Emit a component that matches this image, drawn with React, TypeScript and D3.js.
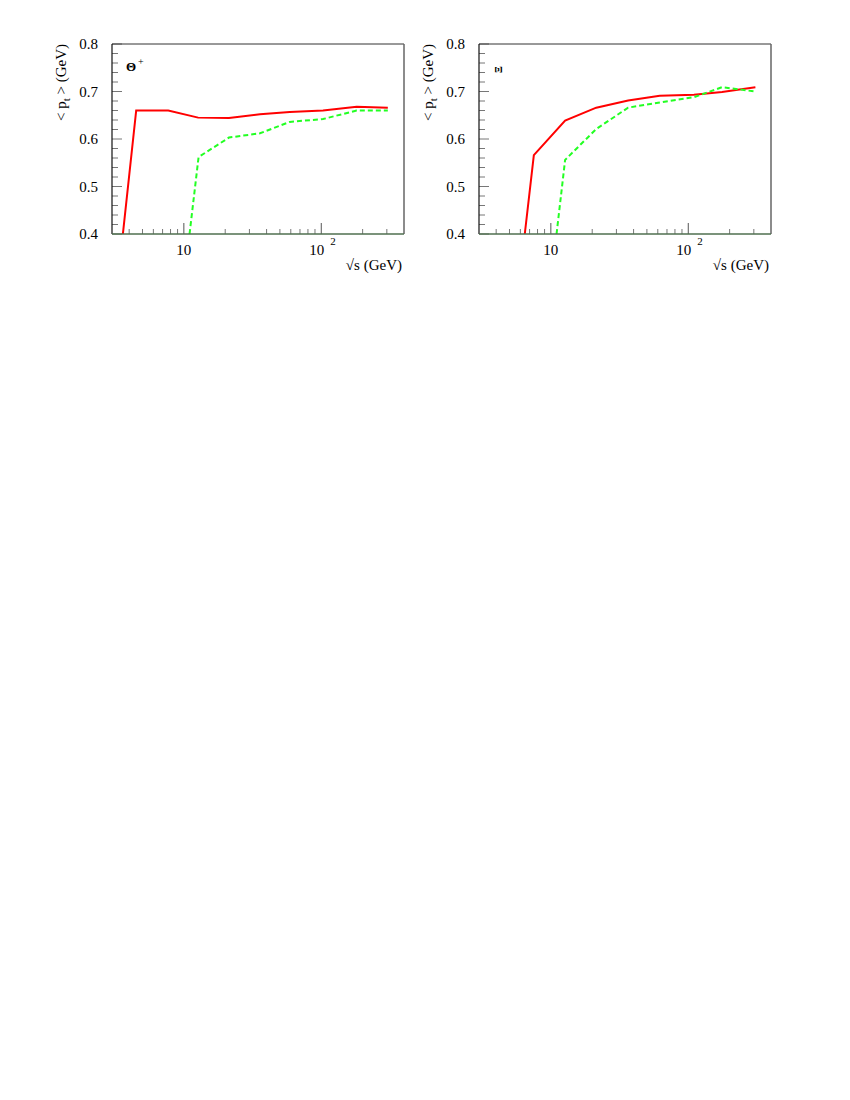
import React from 'react';
import * as d3 from 'd3';

// sqrt(s) in GeV, <pt> in GeV
const thetaRedE = [3.6, 4.5, 7.7, 12.7, 21.3, 35.8, 59, 103, 181, 305];
const thetaRedPt = [0.4, 0.66, 0.66, 0.645, 0.644, 0.652, 0.657, 0.66, 0.668, 0.666];
const thetaGreenE = [11.0, 12.8, 21.3, 35.8, 59, 103, 181, 305];
const thetaGreenPt = [0.4, 0.562, 0.603, 0.612, 0.636, 0.642, 0.66, 0.66];

const xiRedE = [6.46, 7.52, 12.7, 21.4, 36.5, 62, 110, 176, 308];
const xiRedPt = [0.4, 0.566, 0.639, 0.666, 0.681, 0.691, 0.693, 0.699, 0.709];
const xiGreenE = [11.0, 12.7, 21.4, 36.5, 62, 110, 176, 308];
const xiGreenPt = [0.4, 0.556, 0.621, 0.666, 0.677, 0.688, 0.709, 0.7];

const yTicks = [0.4, 0.5, 0.6, 0.7, 0.8];
const xDomain = [3, 400];
const yDomain = [0.4, 0.8];

const FONT = '"Liberation Serif", "DejaVu Serif", serif';

type PanelProps = {
  id: string;
  x0: number;
  x1: number;
  redE: number[];
  redPt: number[];
  greenE: number[];
  greenPt: number[];
  label: React.ReactNode;
};

const Panel = ({ id, x0, x1, redE, redPt, greenE, greenPt, label }: PanelProps) => {
  const y0 = 44;
  const y1 = 234;
  const x = d3.scaleLog().domain(xDomain).range([x0, x1]);
  const y = d3.scaleLinear().domain(yDomain).range([y1, y0]);

  const line = d3
    .line<[number, number]>()
    .x(d => x(d[0]))
    .y(d => y(d[1]));

  const red = line(redE.map((e, i) => [e, redPt[i]] as [number, number])) || '';
  const green = line(greenE.map((e, i) => [e, greenPt[i]] as [number, number])) || '';

  // minor ticks every 0.02
  const yMinor = d3.range(0.42, 0.8, 0.02).filter(v => Math.abs(v * 10 - Math.round(v * 10)) > 0.01);
  const xMinor = [4, 5, 6, 7, 8, 9, 20, 30, 40, 50, 60, 70, 80, 90, 200, 300];
  const xMajor = [10, 100];

  return (
    <g>
      <defs>
        <clipPath id={`clip-${id}`}>
          <rect x={x0} y={y0} width={x1 - x0} height={y1 - y0} />
        </clipPath>
      </defs>

      {/* y ticks */}
      {yTicks.map(t => (
        <g key={`yt${t}`}>
          <line x1={x0} x2={x0 + 10} y1={y(t)} y2={y(t)} stroke="#777" strokeWidth={1} />
          <text x={x0 - 14} y={y(t) + 5} textAnchor="end" fontSize={15} fontFamily={FONT} fill="#000">
            {t.toFixed(1)}
          </text>
        </g>
      ))}
      {yMinor.map(t => (
        <line key={`ym${t}`} x1={x0} x2={x0 + 6} y1={y(t)} y2={y(t)} stroke="#777" strokeWidth={1} />
      ))}

      {/* x ticks */}
      {xMinor.map(t => (
        <line key={`xm${t}`} x1={x(t)} x2={x(t)} y1={y1} y2={y1 - 5} stroke="#777" strokeWidth={1} />
      ))}
      {xMajor.map(t => (
        <line key={`xM${t}`} x1={x(t)} x2={x(t)} y1={y1} y2={y1 - 11} stroke="#555" strokeWidth={1} />
      ))}
      <text x={x(10)} y={255} textAnchor="middle" fontSize={15} fontFamily={FONT}>10</text>
      <text x={x(100) + 3} y={255} textAnchor="end" fontSize={15} fontFamily={FONT}>10</text>
      <text x={x(100) + 9} y={245} fontSize={11} fontFamily={FONT}>2</text>

      {/* curves */}
      <g clipPath={`url(#clip-${id})`}>
        <path d={red} fill="none" stroke="#ff0000" strokeWidth={2} />
        <path d={green} fill="none" stroke="#22ff22" strokeWidth={2} strokeDasharray="5,3" />
      </g>

      {/* frame */}
      <line x1={x0} x2={x1} y1={y0} y2={y0} stroke="#333" strokeWidth={1} />
      <line x1={x0} x2={x0} y1={y0} y2={y1} stroke="#111" strokeWidth={1.2} />
      <line x1={x1} x2={x1} y1={y0} y2={y1} stroke="#666" strokeWidth={1.5} />
      <line x1={x0} x2={x1} y1={y1} y2={y1} stroke="#4f6f4f" strokeWidth={1.6} />

      {/* axis titles */}
      <text
        transform={`translate(${x0 - 46},${y0}) rotate(-90)`}
        textAnchor="end"
        fontSize={15}
        fontFamily={FONT}
      >
        {'< p'}
        <tspan fontSize={11} dy={4}>t</tspan>
        <tspan dy={-4}>{' > (GeV)'}</tspan>
      </text>
      <text x={x1 - 2} y={270} textAnchor="end" fontSize={15} fontFamily={FONT}>
        √s (GeV)
      </text>

      {label}
    </g>
  );
};

const App = () => {
  return (
    <svg
      width={850}
      height={300}
      style={{ position: 'absolute', left: 0, top: 0, background: '#fff' }}
    >
      <rect x={0} y={0} width={850} height={300} fill="#fff" />
      <Panel
        id="theta"
        x0={112}
        x1={404}
        redE={thetaRedE}
        redPt={thetaRedPt}
        greenE={thetaGreenE}
        greenPt={thetaGreenPt}
        label={
          <g fontFamily={FONT}>
            <text x={126} y={71} fontSize={13} fontWeight="bold">Θ</text>
            <text x={138} y={65} fontSize={10}>+</text>
          </g>
        }
      />
      <Panel
        id="xi"
        x0={479}
        x1={771}
        redE={xiRedE}
        redPt={xiRedPt}
        greenE={xiGreenE}
        greenPt={xiGreenPt}
        label={
          <text
            transform="translate(502,69.5) rotate(-90)"
            textAnchor="middle"
            fontSize={10}
            fontWeight="bold"
            fontFamily={FONT}
          >
            Ξ
          </text>
        }
      />
    </svg>
  );
};

export default App;
